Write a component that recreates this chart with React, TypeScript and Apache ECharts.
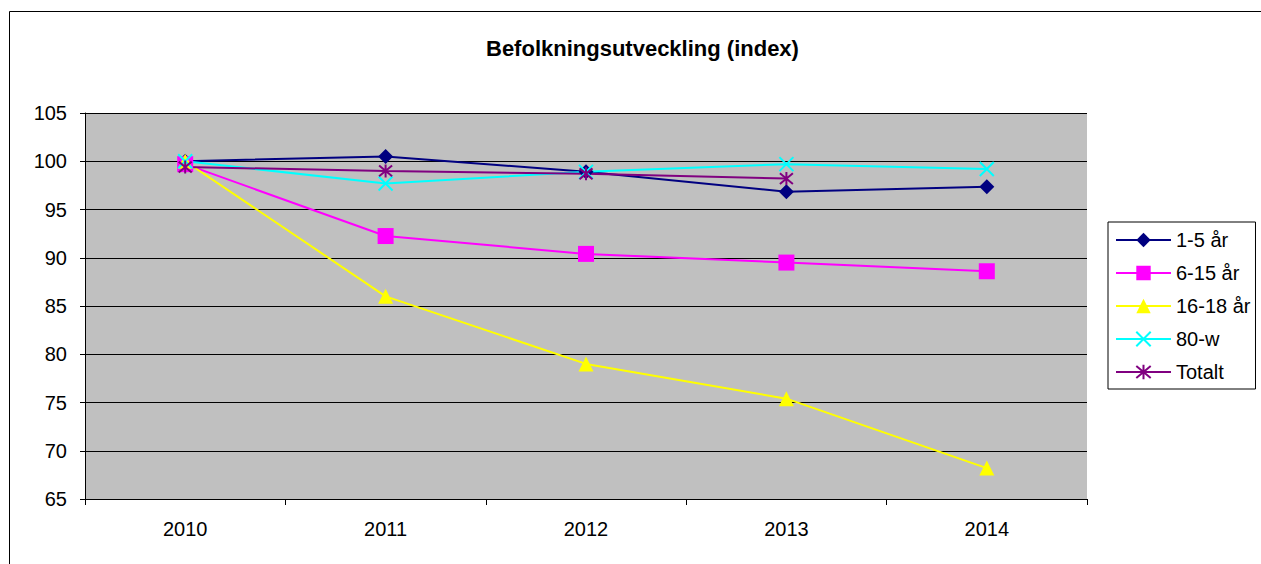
import React, { useEffect, useRef } from "react";
import * as echarts from "echarts";

const years = ["2010", "2011", "2012", "2013", "2014"];
const age1to5 = [100, 100.5, 98.9, 96.85, 97.35];
const age6to15 = [99.7, 92.25, 90.4, 89.5, 88.6];
const age16to18 = [100, 86.0, 79.0, 75.4, 68.2];
const age80w = [100, 97.7, 98.9, 99.7, 99.2];
const totalt = [99.4, 99.0, 98.7, 98.2, null];

const X_PATH = "path://M0,0L10,10M10,0L0,10";
const STAR_PATH = "path://M0,0L10,10M10,0L0,10M5,-1L5,11";

export default function App() {
  const ref = useRef<HTMLDivElement>(null);
  useEffect(() => {
    if (!ref.current) return;
    const chart = echarts.init(ref.current, undefined, { renderer: "svg" });
    const font = "Arial, 'Liberation Sans', sans-serif";
    const mk = (
      name: string,
      data: (number | null)[],
      color: string,
      symbol: string,
      size: number,
      stroke = false
    ) => ({
      name,
      type: "line",
      data,
      symbol,
      symbolSize: size,
      showAllSymbol: true,
      lineStyle: { color, width: 2 },
      itemStyle: stroke
        ? { color, borderColor: color, borderWidth: 2 }
        : { color, borderWidth: 0 },
      emphasis: { disabled: true },
    });
    chart.setOption({
      animation: false,
      backgroundColor: "#ffffff",
      title: {
        text: "Befolkningsutveckling (index)",
        left: 481,
        top: 32,
        textStyle: { fontFamily: font, fontSize: 22, fontWeight: "bold", color: "#000" },
      },
      graphic: [
        {
          type: "rect",
          shape: { x: 9.5, y: 11.5, width: 1400, height: 700 },
          style: { fill: "none", stroke: "#000", lineWidth: 1 },
          silent: true,
        },
      ],
      legend: {
        orient: "vertical",
        left: 1108,
        top: 222,
        padding: [8, 5, 7, 7],
        itemWidth: 55,
        itemHeight: 18,
        itemGap: 13,
        borderColor: "#000",
        borderWidth: 1,
        backgroundColor: "#fff",
        textStyle: { fontFamily: font, fontSize: 20, color: "#000" },
        data: ["1-5 år", "6-15 år", "16-18 år", "80-w", "Totalt"],
      },
      grid: { left: 85, top: 113, width: 1002, height: 386, backgroundColor: "#C0C0C0", show: true, borderWidth: 0 },
      xAxis: {
        type: "category",
        data: years,
        boundaryGap: true,
        axisLine: { lineStyle: { color: "#000", width: 1 } },
        axisTick: { show: true, length: 6, lineStyle: { color: "#000" } },
        axisLabel: { color: "#000", fontFamily: font, fontSize: 20, margin: 20 },
      },
      yAxis: {
        type: "value",
        min: 65,
        max: 105,
        interval: 5,
        axisLine: { show: true, lineStyle: { color: "#000", width: 1 } },
        axisTick: { show: true, length: 5, lineStyle: { color: "#000" } },
        axisLabel: { color: "#000", fontFamily: font, fontSize: 20, margin: 18 },
        splitLine: { show: true, lineStyle: { color: "#000", width: 1 } },
      },
      series: [
        mk("1-5 år", age1to5, "#000080", "diamond", 15),
        mk("6-15 år", age6to15, "#FF00FF", "rect", 16),
        mk("16-18 år", age16to18, "#FFFF00", "triangle", 15),
        mk("80-w", age80w, "#00FFFF", X_PATH, 14, true),
        mk("Totalt", totalt, "#800080", STAR_PATH, 13, true),
      ],
    });
    return () => chart.dispose();
  }, []);
  return (
    <div
      ref={ref}
      style={{ position: "fixed", left: 0, top: 0, width: 1261, height: 564 }}
    />
  );
}
